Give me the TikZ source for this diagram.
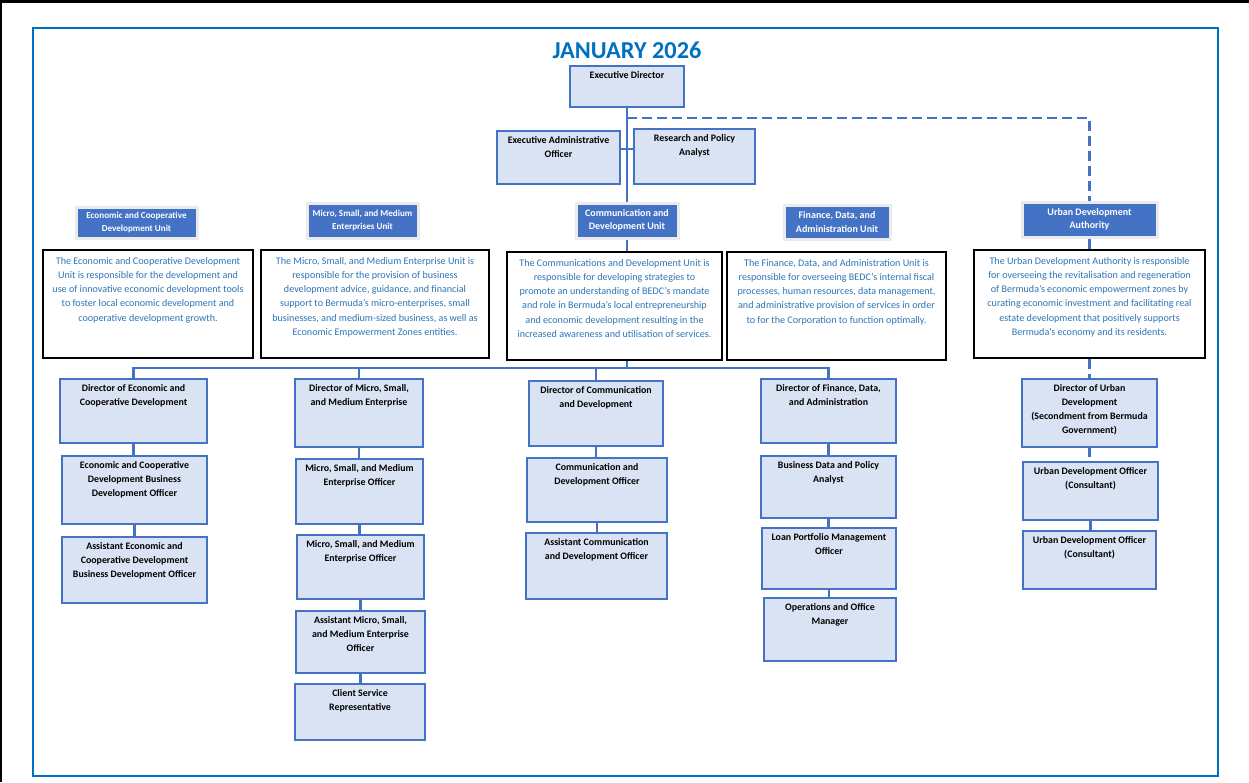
\documentclass[tikz,border=0pt]{standalone}
\usepackage{fontspec}
\setmainfont{Carlito}
\usetikzlibrary{backgrounds}
\definecolor{frame}{HTML}{0070C0}
\definecolor{bfill}{HTML}{DAE3F3}
\definecolor{bline}{HTML}{4472C4}
\definecolor{dtext}{HTML}{2E75B6}
\tikzset{
 pbox/.style={draw=bline, line width=1.5pt, fill=bfill, inner sep=0pt, outer sep=0pt},
 ptext/.style={font=\fontsize{9.9}{14}\selectfont\bfseries, align=center, inner sep=0pt},
 hdr/.style={draw=black!8, line width=3pt, fill=bline, inner sep=0pt, outer sep=1.5pt, text=white, align=center, font=\fontsize{10}{13.5}\selectfont\bfseries},
 smallhdr/.style={font=\fontsize{9.1}{13}\selectfont\bfseries},
 dbox/.style={draw=black, line width=2.5pt, fill=white, inner sep=0pt, outer sep=1.2pt},
 dtxt/.style={text=dtext, font=\fontsize{10.1}{14.3}\selectfont, align=center, inner sep=0pt},
 conn/.style={draw=bline, line width=2.5pt},
 dconn/.style={draw=bline, line width=2.2pt, dash pattern=on 10pt off 5pt},
}
\newcommand\orgbox[6]{%
 \node[pbox, minimum width={(#4-#2)*1pt}, minimum height={(#5-#3)*1pt}] (#1) at ({(#2+#4)/2},{(#3+#5)/2}) {};
 \node[ptext, anchor=north] (#1-t) at ([yshift=-5.5pt]#1.north) {#6};}
\newcommand\unitbox[7][]{%
 \node[hdr, #1, minimum width={(#5-#3)*1pt}, minimum height={(#6-#4)*1pt}] (#2) at ({(#3+#5)/2},{(#4+#6)/2}) {#7};}
\newcommand\descbox[6]{%
 \node[dbox, minimum width={(#4-#2)*1pt}, minimum height={(#5-#3)*1pt}] (#1) at ({(#2+#4)/2},{(#3+#5)/2}) {};
 \node[dtxt, anchor=north] (#1-t) at ([yshift=-8pt]#1.north) {#6};}
\begin{document}
\begin{tikzpicture}[x=1pt,y=-1pt]
\useasboundingbox (0,0) rectangle (1249,782);
\draw[black, line width=2.5pt] (0,1.5) -- (1249,1.5);
\draw[black, line width=1.5pt] (0.75,0) -- (0.75,782);
\draw[frame, line width=2.5pt] (33,28) rectangle (1218,776);

\node[font=\fontsize{24.3}{28}\selectfont\bfseries, text=frame] (title) at (627,50) {JANUARY 2026};

\orgbox{ed}{570}{66}{684}{107}{Executive Director}
\orgbox{eao}{497}{131}{620}{184}{Executive Administrative\\Officer}
\orgbox{rpa}{634}{129}{755}{184}{Research and Policy\\Analyst}

\unitbox[smallhdr]{ecou}{76}{207}{197}{238}{Economic and Cooperative\\Development Unit}
\unitbox[smallhdr]{msmeu}{307}{203}{418}{238}{Micro, Small, and Medium\\Enterprises Unit}
\unitbox{commu}{576}{203}{678}{238}{Communication and\\Development Unit}
\unitbox{finu}{784}{205}{890}{239}{Finance, Data, and\\Administration Unit}
\unitbox{udau}{1022}{202}{1157}{237}{Urban Development\\Authority}

\descbox{ecod}{43}{250}{253}{358}{The Economic and Cooperative Development\\Unit is responsible for the development and\\use of innovative economic development tools\\to foster local economic development and\\cooperative development growth.}
\descbox{msmed}{261}{250}{489}{358}{The Micro, Small, and Medium Enterprise Unit is\\responsible for the provision of business\\development advice, guidance, and financial\\support to Bermuda’s micro-enterprises, small\\businesses, and medium-sized business, as well as\\Economic Empowerment Zones entities.}
\descbox{commd}{507}{252}{722}{360}{The Communications and Development Unit is\\responsible for developing strategies to\\promote an understanding of BEDC’s mandate\\and role in Bermuda’s local entrepreneurship\\and economic development resulting in the\\increased awareness and utilisation of services.}
\descbox{find}{727}{252}{946}{360}{The Finance, Data, and Administration Unit is\\responsible for overseeing BEDC’s internal fiscal\\processes, human resources, data management,\\and administrative provision of services in order\\to for the Corporation to function optimally.}
\descbox{udad}{974}{250}{1205}{358}{The Urban Development Authority is responsible\\for overseeing the revitalisation and regeneration\\of Bermuda’s economic empowerment zones by\\curating economic investment and facilitating real\\estate development that positively supports\\Bermuda’s economy and its residents.}

\orgbox{ecodir}{60}{379}{207}{443}{Director of Economic and\\Cooperative Development}
\orgbox{ecobdo}{62}{456}{207}{524}{Economic and Cooperative\\Development Business\\Development Officer}
\orgbox{ecoasst}{62}{537}{207}{603}{Assistant Economic and\\Cooperative Development\\Business Development Officer}

\orgbox{msmedir}{295}{379}{423}{447}{Director of Micro, Small,\\and Medium Enterprise}
\orgbox{msmeo1}{296}{459}{423}{524}{Micro, Small, and Medium\\Enterprise Officer}
\orgbox{msmeo2}{297}{535}{424}{599}{Micro, Small, and Medium\\Enterprise Officer}
\orgbox{msmeasst}{296}{611}{425}{673}{Assistant Micro, Small,\\and Medium Enterprise\\Officer}
\orgbox{csr}{295}{684}{425}{740}{Client Service\\Representative}

\orgbox{commdir}{529}{381}{663}{446}{Director of Communication\\and Development}
\orgbox{commo}{527}{458}{667}{522}{Communication and\\Development Officer}
\orgbox{commasst}{526}{533}{667}{599}{Assistant Communication\\and Development Officer}

\orgbox{findir}{761}{379}{896}{443}{Director of Finance, Data,\\and Administration}
\orgbox{bdpa}{761}{456}{896}{518}{Business Data and Policy\\Analyst}
\orgbox{loan}{762}{528}{896}{589}{Loan Portfolio Management\\Officer}
\orgbox{ops}{764}{598}{896}{661}{Operations and Office\\Manager}

\orgbox{udadir}{1022}{379}{1157}{447}{Director of Urban\\Development\\(Secondment from Bermuda\\Government)}
\orgbox{udao1}{1023}{462}{1158}{520}{Urban Development Officer\\(Consultant)}
\orgbox{udao2}{1023}{531}{1156}{589}{Urban Development Officer\\(Consultant)}

\begin{pgfonlayer}{background}
\coordinate (dstart) at (627,118);
\coordinate (bus) at (627,368);
\draw[conn] (ed.south) -- (ed.south |- commu.north);
\draw[dconn] (dstart) -| (udau.north);
\draw[conn] ([yshift=8.5pt]eao.east) -- ([yshift=8.5pt]eao.east -| rpa.west);
\draw[conn] (commu.south) -- (commu.south |- commd.north);
\draw[conn] (commu.south |- commd.south) -- (bus);
\draw[conn] (ecodir.north) |- (bus) -| (findir.north);
\draw[conn] (msmedir.north) -- (msmedir.north |- bus);
\draw[conn] (commdir.north) -- (commdir.north |- bus);
\draw[conn] (ecodir.south) -- (ecodir.south |- ecobdo.north);
\draw[conn] (ecobdo.south) -- (ecobdo.south |- ecoasst.north);
\draw[conn] (msmedir.south) -- (msmedir.south |- msmeo1.north);
\draw[conn] (msmeo1.south) -- (msmeo1.south |- msmeo2.north);
\draw[conn] (msmeo2.south) -- (msmeo2.south |- msmeasst.north);
\draw[conn] (msmeasst.south) -- (msmeasst.south |- csr.north);
\draw[conn] (commdir.south) -- (commdir.south |- commo.north);
\draw[conn] (commo.south) -- (commo.south |- commasst.north);
\draw[conn] (findir.south) -- (findir.south |- bdpa.north);
\draw[conn] (bdpa.south) -- (bdpa.south |- loan.north);
\draw[conn] (loan.south) -- (loan.south |- ops.north);
\draw[dconn] (udau.south) -- (udau.south |- udad.north);
\draw[dconn] (udad.south) -- (udad.south |- udadir.north);
\draw[dconn] (udadir.south) -- (udadir.south |- udao1.north);
\draw[dconn] (udao1.south) -- (udao1.south |- udao2.north);
\end{pgfonlayer}
\end{tikzpicture}
\end{document}
